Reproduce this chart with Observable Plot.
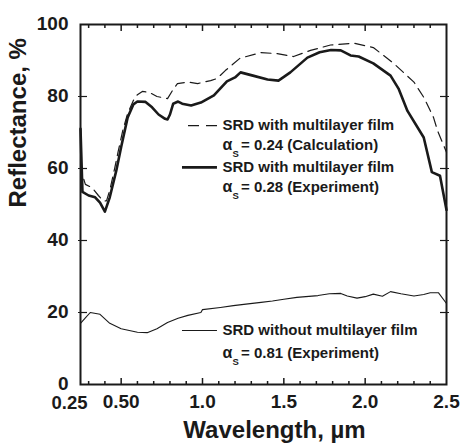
<!DOCTYPE html>
<html><head><meta charset="utf-8">
<script src="https://cdn.jsdelivr.net/npm/d3@7"></script>
<script src="https://cdn.jsdelivr.net/npm/@observablehq/plot@0.6"></script>
<style>
html,body{margin:0;padding:0;background:#fff;}
</style>
</head><body><div id="chart"></div>
<script>
// ---- data ----
const exptWl = [0.25,0.262,0.30,0.34,0.37,0.40,0.43,0.47,0.50,0.54,0.575,0.60,0.65,0.69,0.73,0.77,0.785,0.80,0.82,0.85,0.875,0.93,0.99,1.07,1.15,1.20,1.234,1.31,1.40,1.467,1.54,1.645,1.72,1.79,1.85,1.91,1.96,2.05,2.156,2.205,2.26,2.36,2.41,2.46,2.50];
const exptR  = [71,53.5,52.5,52,50.5,48,52,59.4,66,74.2,77.8,78.6,78.5,77,75,73.8,73.6,75,78,78.6,78,77.5,78.3,80.3,84.2,85.3,86.7,85.8,84.7,84.4,86.7,90.8,92.3,92.9,92.8,91.4,91.1,89.2,85.8,82.2,76,68.6,59,58,48.5];

const calcWl = [0.27,0.28,0.32,0.36,0.39,0.41,0.43,0.46,0.48,0.51,0.54,0.575,0.60,0.63,0.67,0.72,0.785,0.82,0.846,0.91,0.97,1.05,1.09,1.14,1.23,1.357,1.46,1.56,1.664,1.787,1.93,2.05,2.17,2.30,2.36,2.42,2.445,2.50];
const calcR  = [57,55.6,54.7,52.5,51,51,54,60,64.4,70.6,75.3,78.9,80.5,81.4,81.2,80,79.4,82,83.6,84,83.6,84.4,85,87.2,90.6,92.2,91.9,91.1,92.8,94.3,94.8,93.6,89.4,84,79.8,74.2,70.5,64.5];

const bareWl = [0.25,0.28,0.31,0.37,0.43,0.50,0.60,0.66,0.72,0.785,0.85,0.91,0.99,1.00,1.11,1.19,1.28,1.36,1.43,1.50,1.58,1.71,1.78,1.85,1.89,1.95,2.00,2.05,2.106,2.156,2.22,2.30,2.36,2.40,2.45,2.50];
const bareR  = [17,18.5,20,19.5,17,15.5,14.5,14.4,15.5,17.2,18.4,19.2,20,20.8,21.4,21.9,22.4,22.8,23.2,23.7,24.2,24.7,25.2,25.3,24.6,24,24.4,25.1,24.5,25.8,25.2,24.6,25,25.5,25.5,22.5];

const xTickValues = [0.25,0.5,1.0,1.5,2.0,2.5];
const xTickLabels = ["0.25","0.50","1.0","1.5","2.0","2.5"];
const xMajorTicks = [0.5,1.0,1.5,2.0];
const xMinorTicks = [0.3,0.4,0.6,0.7,0.8,0.9,1.1,1.2,1.3,1.4,1.6,1.7,1.8,1.9,2.1,2.2,2.3,2.4];
const yTickValues = [0,20,40,60,80,100];
const yInnerTicks = [20,40,60,80];

const legendTitles = ["SRD with multilayer film","SRD with multilayer film","SRD without multilayer film"];
const legendAlphaText = ["= 0.24 (Calculation)","= 0.28 (Experiment)","= 0.81 (Experiment)"];

// ---- tables ----
const expt = exptWl.map((w,i)=>({wl:w, r:exptR[i]}));
const calc = calcWl.map((w,i)=>({wl:w, r:calcR[i]}));
const bare = bareWl.map((w,i)=>({wl:w, r:bareR[i]}));

// legend layout (in data units of the chart)
const legTextX = 1.123;
const legRows = [
  {title: legendTitles[0], alpha: legendAlphaText[0], y1: 71.9, y2: 66.4, x1: 0.914, x2: 1.098, kind: "dash"},
  {title: legendTitles[1], alpha: legendAlphaText[1], y1: 60.3, y2: 54.7, x1: 0.877, x2: 1.092, kind: "thick"},
  {title: legendTitles[2], alpha: legendAlphaText[2], y1: 15.0, y2: 8.6, x1: 0.877, x2: 1.092, kind: "thin"}
];

const ink = "#1a1a1a";
const font = "'Liberation Sans', Arial, Helvetica, sans-serif";

const plot = Plot.plot({
  width: 463, height: 448,
  marginLeft: 80, marginRight: 17, marginTop: 24, marginBottom: 64,
  x: {domain: [0.25, 2.5]},
  y: {domain: [0, 100]},
  style: {fontFamily: font, fontWeight: "bold", color: ink, background: "#fff", overflow: "visible"},
  marks: [
    // data lines
    Plot.line(bare, {x: "wl", y: "r", stroke: ink, strokeWidth: 1.1}),
    Plot.line(calc, {x: "wl", y: "r", stroke: ink, strokeWidth: 1.2, strokeDasharray: "10,6"}),
    Plot.line(expt, {x: "wl", y: "r", stroke: ink, strokeWidth: 2.6, strokeLinejoin: "round"}),

    // ticks (inward)
    Plot.axisX({anchor: "bottom", ticks: xMinorTicks, tickSize: -3, fill: "none", stroke: ink, strokeWidth: 1.5}),
    Plot.axisX({anchor: "bottom", ticks: xMajorTicks, tickSize: -6, fill: "none", stroke: ink, strokeWidth: 1.5}),
    Plot.axisX({anchor: "top", ticks: xMinorTicks, tickSize: -3, fill: "none", stroke: ink, strokeWidth: 1.5}),
    Plot.axisX({anchor: "top", ticks: xMajorTicks, tickSize: -6, fill: "none", stroke: ink, strokeWidth: 1.5}),
    Plot.axisY({anchor: "left", ticks: yInnerTicks, tickSize: -7, fill: "none", stroke: ink, strokeWidth: 1.2}),
    Plot.axisY({anchor: "left", ticks: yInnerTicks, tickSize: 2, fill: "none", stroke: ink, strokeWidth: 1.2}),
    Plot.axisY({anchor: "right", ticks: yInnerTicks, tickSize: -7, fill: "none", stroke: ink, strokeWidth: 1.2}),
    Plot.axisY({anchor: "right", ticks: yInnerTicks, tickSize: 2, fill: "none", stroke: ink, strokeWidth: 1.2}),

    Plot.frame({stroke: ink, strokeWidth: 2}),

    // tick labels
    Plot.text(xTickValues.slice(0,1), {x: d => d, text: () => xTickLabels[0], frameAnchor: "bottom", dy: 24, dx: -11, fontSize: 18.5, fill: ink, fontWeight: "bold"}),
    Plot.text(xTickValues.slice(1), {x: d => d, text: (d,i) => xTickLabels[i+1], frameAnchor: "bottom", dy: 23, fontSize: 19, fill: ink, fontWeight: "bold"}),
    Plot.text(yTickValues, {y: d => d, text: d => String(d), frameAnchor: "left", textAnchor: "end", dx: -12, dy: -1, fontSize: 19, fill: ink, fontWeight: "bold"}),

    // axis titles
    Plot.text(["Wavelength, µm"], {frameAnchor: "bottom", dy: 53, dx: 11, fontSize: 24, fill: ink, fontWeight: "bold"}),
    Plot.text(["Reflectance, %"], {frameAnchor: "left", dx: -62, dy: 3, rotate: -90, fontSize: 24, fill: ink, fontWeight: "bold"}),

    // legend samples
    Plot.ruleY(legRows.filter(d => d.kind === "dash"), {y: "y1", x1: "x1", x2: "x2", stroke: ink, strokeWidth: 1.2, strokeDasharray: "11,7"}),
    Plot.ruleY(legRows.filter(d => d.kind === "thick"), {y: "y1", x1: "x1", x2: "x2", stroke: ink, strokeWidth: 2.6}),
    Plot.ruleY(legRows.filter(d => d.kind === "thin"), {y: "y1", x1: "x1", x2: "x2", stroke: ink, strokeWidth: 1.1}),
    // legend texts
    Plot.text(legRows, {x: () => legTextX, y: "y1", text: "title", textAnchor: "start", fontSize: 15, fill: ink, fontWeight: "bold"}),
    Plot.text(legRows, {x: () => legTextX, y: "y2", text: () => "α", textAnchor: "start", dy: -1, fontSize: 16, fill: ink, fontWeight: "bold"}),
    Plot.text(legRows, {x: () => legTextX, y: "y2", text: () => "S", textAnchor: "start", dx: 10, dy: 8, fontSize: 9.5, fill: ink, fontWeight: "bold"}),
    Plot.text(legRows, {x: () => legTextX, y: "y2", text: "alpha", textAnchor: "start", dx: 18.5, fontSize: 15, fill: ink, fontWeight: "bold"})
  ]
});
document.getElementById("chart").appendChild(plot);
</script>
</body></html>
